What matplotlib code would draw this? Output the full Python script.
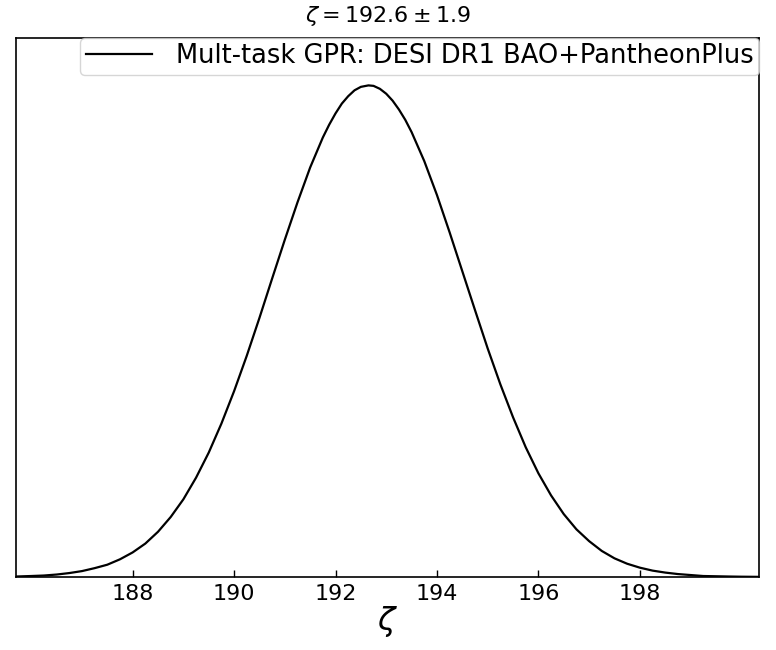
import matplotlib
matplotlib.use("Agg")
import matplotlib.pyplot as plt

# values (zeta, relative density with peak = 1)
zeta = [185.70, 186.00, 186.25, 186.50, 186.75, 187.00, 187.25, 187.50, 187.75,
        188.00, 188.25, 188.50, 188.75, 189.00, 189.25, 189.50, 189.75,
        190.00, 190.25, 190.50, 190.75, 191.00, 191.25, 191.50, 191.75,
        191.875, 192.00, 192.125, 192.25, 192.375, 192.50, 192.65, 192.75,
        192.875, 193.00, 193.125, 193.25, 193.375, 193.50, 193.75,
        194.00, 194.25, 194.50, 194.75, 195.00, 195.25, 195.50, 195.75,
        196.00, 196.25, 196.50, 196.75, 197.00, 197.25, 197.50, 197.75,
        198.00, 198.25, 198.50, 198.75, 199.00, 199.25, 199.50, 199.75,
        200.00, 200.35]
density = [0.001, 0.002, 0.003, 0.005, 0.008, 0.012, 0.018, 0.025, 0.036,
           0.050, 0.068, 0.092, 0.122, 0.158, 0.202, 0.253, 0.312,
           0.378, 0.450, 0.527, 0.607, 0.686, 0.762, 0.833, 0.894,
           0.920, 0.943, 0.963, 0.978, 0.990, 0.997, 1.000, 0.999,
           0.993, 0.983, 0.969, 0.951, 0.930, 0.905, 0.846,
           0.777, 0.701, 0.622, 0.543, 0.465, 0.392, 0.325, 0.264,
           0.211, 0.166, 0.128, 0.097, 0.073, 0.053, 0.038, 0.027,
           0.019, 0.013, 0.009, 0.006, 0.004, 0.002, 0.0015, 0.001,
           0.0006, 0.0003]

xticks = [188, 190, 192, 194, 196, 198]
title = r"$\zeta = 192.6 \pm 1.9$"
legend_label = "Mult-task GPR: DESI DR1 BAO+PantheonPlus"

fig = plt.figure(figsize=(7.76, 6.5), dpi=100)
ax = fig.add_axes([16 / 776, 1 - 577 / 650, (759 - 16) / 776, (577 - 37.7) / 650])
ax.plot(zeta, density, color="black", lw=1.6, label=legend_label)
ax.set_xlim(zeta[0], zeta[-1])
ax.set_ylim(0, 1.097)
ax.set_xticks(xticks)
ax.set_xticklabels([str(t) for t in xticks])
ax.set_yticks([])
ax.tick_params(axis="x", direction="in", labelsize=16, length=5, width=1, pad=5)
ax.set_xlabel(r"$\zeta$", fontsize=23, labelpad=0)
ax.set_title(title, fontsize=16, pad=11)
ax.legend(loc="upper right", fontsize=18.5, borderaxespad=0.0, handlelength=2.6,
          handletextpad=0.9, borderpad=0.22)
for s in ax.spines.values():
    s.set_linewidth(1.2)

fig.savefig("out.png", dpi=100)
